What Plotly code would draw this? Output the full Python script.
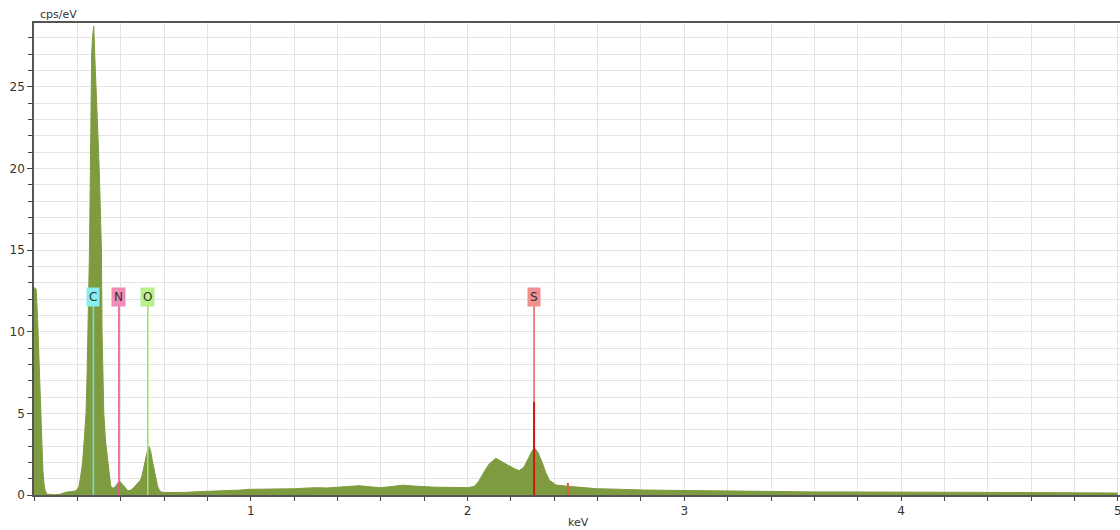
import plotly.graph_objects as go

# Spectrum (keV, cps/eV)
energy = [0.000, 0.010, 0.016, 0.021, 0.026, 0.031, 0.036, 0.041, 0.046, 0.052, 0.060, 0.080, 0.100,
          0.120, 0.135, 0.150, 0.170, 0.190, 0.200, 0.207, 0.215, 0.224, 0.232, 0.240, 0.245, 0.249,
          0.253, 0.256, 0.259, 0.262, 0.266, 0.270, 0.2755, 0.280, 0.285, 0.289, 0.293, 0.298, 0.303,
          0.308, 0.311, 0.314, 0.318, 0.322, 0.330, 0.340, 0.347, 0.354, 0.362, 0.370, 0.380, 0.390,
          0.397, 0.405, 0.415, 0.425, 0.432, 0.440, 0.450, 0.460, 0.470, 0.480, 0.490, 0.497, 0.505,
          0.515, 0.523, 0.531, 0.538, 0.546, 0.554, 0.562, 0.570, 0.578, 0.585, 0.600, 0.650, 0.700,
          0.750, 0.800, 0.850, 0.900, 0.950, 1.000, 1.050, 1.100, 1.150, 1.200, 1.250, 1.300, 1.350,
          1.400, 1.450, 1.500, 1.550, 1.600, 1.650, 1.700, 1.750, 1.800, 1.850, 1.900, 1.950, 2.000,
          2.030, 2.050, 2.077, 2.100, 2.130, 2.160, 2.190, 2.215, 2.238, 2.260, 2.280, 2.300, 2.310,
          2.325, 2.346, 2.360, 2.377, 2.408, 2.450, 2.500, 2.550, 2.600, 2.650, 2.700, 2.800, 2.900,
          3.000, 3.100, 3.200, 3.300, 3.400, 3.500, 3.600, 3.700, 3.800, 3.900, 4.000, 4.200, 4.400,
          4.600, 4.800, 5.000]
counts = [12.7, 12.6, 11.0, 9.0, 6.9, 4.6, 2.8, 1.5, 0.7, 0.25, 0.05, 0.02, 0.02,
          0.05, 0.12, 0.18, 0.20, 0.25, 0.35, 0.5, 1.1, 2.0, 3.4, 5.0, 7.5, 10.0,
          12.5, 15.0, 18.5, 23.0, 27.0, 28.0, 28.7, 27.0, 25.5, 24.5, 23.0, 21.0, 19.0,
          16.5, 15.0, 10.0, 7.0, 5.0, 3.3, 2.0, 1.1, 0.55, 0.42, 0.45, 0.60, 0.80,
          0.82, 0.70, 0.50, 0.35, 0.28, 0.27, 0.33, 0.45, 0.60, 0.75, 0.90, 1.10, 1.60,
          2.20, 2.70, 2.96, 2.70, 2.10, 1.50, 1.00, 0.55, 0.30, 0.20, 0.15, 0.14, 0.16,
          0.20, 0.22, 0.24, 0.26, 0.30, 0.35, 0.36, 0.37, 0.35, 0.38, 0.42, 0.45, 0.43,
          0.48, 0.52, 0.57, 0.50, 0.45, 0.52, 0.60, 0.55, 0.50, 0.48, 0.47, 0.45, 0.45,
          0.52, 0.80, 1.43, 1.90, 2.25, 2.05, 1.80, 1.62, 1.49, 1.70, 2.20, 2.75, 2.86,
          2.60, 1.94, 1.40, 0.92, 0.61, 0.55, 0.50, 0.42, 0.38, 0.37, 0.34, 0.31, 0.29,
          0.27, 0.25, 0.24, 0.22, 0.21, 0.20, 0.19, 0.19, 0.18, 0.18, 0.17, 0.16, 0.16,
          0.15, 0.14, 0.12]

# Element markers
elements = ["C", "N", "O", "S"]
element_kev = [0.274, 0.392, 0.525, 2.307]
element_box = ["#88eeee", "#f08cb8", "#b8f08c", "#f09090"]
element_line = ["#7ad8d8", "#e8559a", "#9ee36a", "#e86868"]
label_level = 12.1
line_top = 11.6

# Extra markers (peak bars)
bar_kev = [2.307, 2.463]
bar_height = [5.7, 0.74]
bar_color = ["#d21414", "#e0602a"]

x_labels = [1, 2, 3, 4, 5]

fig = go.Figure()
fig.add_trace(go.Scatter(x=energy, y=counts, mode="lines", fill="tozeroy",
                         line=dict(color="#7f9b40", width=1), fillcolor="#7f9b40",
                         hoverinfo="skip", showlegend=False))

for name, xv, lc in zip(elements, element_kev, element_line):
    fig.add_trace(go.Scatter(x=[xv, xv], y=[0, line_top], mode="lines",
                             line=dict(color=lc, width=1.6), showlegend=False, hoverinfo="skip"))
for xv, h, c in zip(bar_kev, bar_height, bar_color):
    fig.add_trace(go.Scatter(x=[xv, xv], y=[0, h], mode="lines",
                             line=dict(color=c, width=2), showlegend=False, hoverinfo="skip"))

for name, xv, bc in zip(elements, element_kev, element_box):
    fig.add_annotation(x=xv, y=label_level, text=name, showarrow=False, bgcolor=bc,
                       borderpad=2, font=dict(family="DejaVu Sans", size=12, color="#333"))

fig.add_annotation(xref="paper", yref="paper", x=0.004, y=1.0, xanchor="left", yanchor="bottom",
                   text="cps/eV", showarrow=False, yshift=0,
                   font=dict(family="DejaVu Sans", size=11, color="#333"))
fig.add_annotation(xref="paper", yref="paper", x=0.501, y=0, xanchor="center", yanchor="top",
                   text="keV", showarrow=False, yshift=-19,
                   font=dict(family="DejaVu Sans", size=11, color="#333"))

fig.update_layout(
    width=1120, height=530,
    margin=dict(l=34, r=0, t=23, b=35, autoexpand=False),
    paper_bgcolor="white", plot_bgcolor="white",
    font=dict(family="DejaVu Sans", size=12, color="#333"),
    xaxis=dict(range=[0, 5.01], tickmode="array", tickvals=x_labels,
               ticks="outside", ticklen=4, tickcolor="#444", automargin=False,
               ticklabeloverflow="allow",
               showgrid=True, gridcolor="#e4e4e4", zeroline=False,
               showline=True, linecolor="#555", linewidth=1.5, mirror=True,
               minor=dict(dtick=0.2, tick0=0, ticks="outside", ticklen=4, tickcolor="#444",
                          showgrid=True, gridcolor="#e4e4e4")),
    yaxis=dict(range=[0, 28.9], tickmode="linear", tick0=0, dtick=5, ticks="outside",
               ticklen=5, tickcolor="#444", showgrid=True, gridcolor="#e4e4e4", automargin=False,
               zeroline=False, showline=True, linecolor="#555", linewidth=1.5,
               minor=dict(dtick=1, tick0=0, ticks="outside", ticklen=4, tickcolor="#444",
                          showgrid=True, gridcolor="#e4e4e4")),
)

fig.write_html("out.html", config={"displayModeBar": False},
               post_script="document.body.style.margin='0';document.body.style.overflow='hidden';")
